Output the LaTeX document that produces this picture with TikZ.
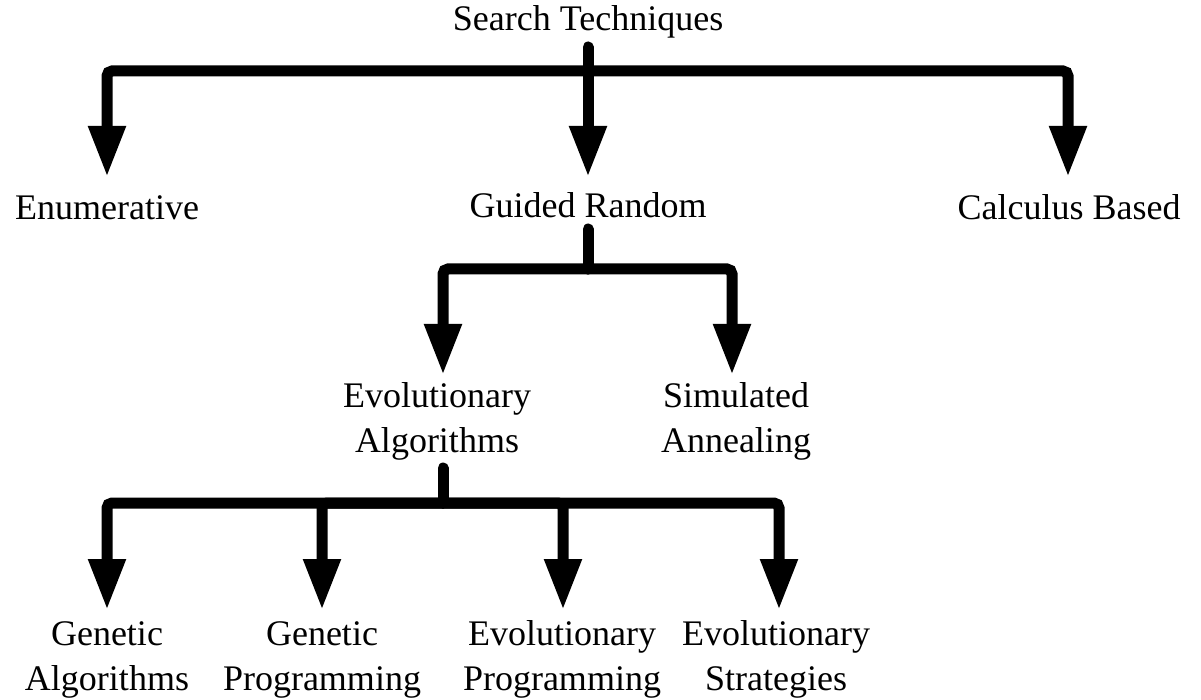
\documentclass[tikz,border=0pt]{standalone}
\usepackage{fontspec}
\setmainfont{Liberation Serif}
\usetikzlibrary{arrows.meta}
\begin{document}
\begin{tikzpicture}[x=1pt,y=-1pt,
  lbl/.style={inner sep=0pt, anchor=base, align=center, font=\fontsize{36}{45}\selectfont},
  conn/.style={line width=11pt, rounded corners=5pt, line cap=round},
  arr/.style={conn, -{Triangle[width=35pt,length=51pt]}}]
\useasboundingbox (0,0) rectangle (1201,700);
% labels (multi-line nodes: base = baseline of last line)
\node[lbl] (root) at (588,31) {Search Techniques};
\node[lbl] (enum) at (107,220) {Enumerative};
\node[lbl] (guided) at (588,218) {Guided Random};
\node[lbl] (calc) at (1069,220) {Calculus Based};
\node[lbl] (evo) at (437,452) {Evolutionary\\Algorithms};
\node[lbl] (sa) at (736,452) {Simulated\\Annealing};
\node[lbl] (ga) at (107,690) {Genetic\\Algorithms};
\node[lbl] (gp) at (322,690) {Genetic\\Programming};
\node[lbl] (ep) at (562,690) {Evolutionary\\Programming};
\node[lbl] (es) at (776,690) {Evolutionary\\Strategies};
% level 1
\coordinate (s0) at (588,47);
\coordinate (b0) at (588,71);
\coordinate (t1) at (107,177);
\coordinate (t2) at (588,177);
\coordinate (t3) at (1068,177);
\draw[arr] (s0) -- (t2);
\draw[arr] (b0) -| (t1);
\draw[arr] (b0) -| (t3);
% level 2
\coordinate (s1) at (588,229);
\coordinate (b1) at (588,269);
\coordinate (t4) at (443,375);
\coordinate (t5) at (732,375);
\draw[conn] (s1) -- (b1);
\draw[arr] (b1) -| (t4);
\draw[arr] (b1) -| (t5);
% level 3
\coordinate (s2) at (443,468);
\coordinate (b2) at (443,503);
\coordinate (t6) at (107,610);
\coordinate (t7) at (322,610);
\coordinate (t8) at (563,610);
\coordinate (t9) at (779,610);
\draw[conn] (s2) -- (b2);
\draw[arr] (b2) -| (t6);
\draw[arr] (b2) -| (t7);
\draw[arr] (b2) -| (t8);
\draw[arr] (b2) -| (t9);
\end{tikzpicture}
\end{document}
